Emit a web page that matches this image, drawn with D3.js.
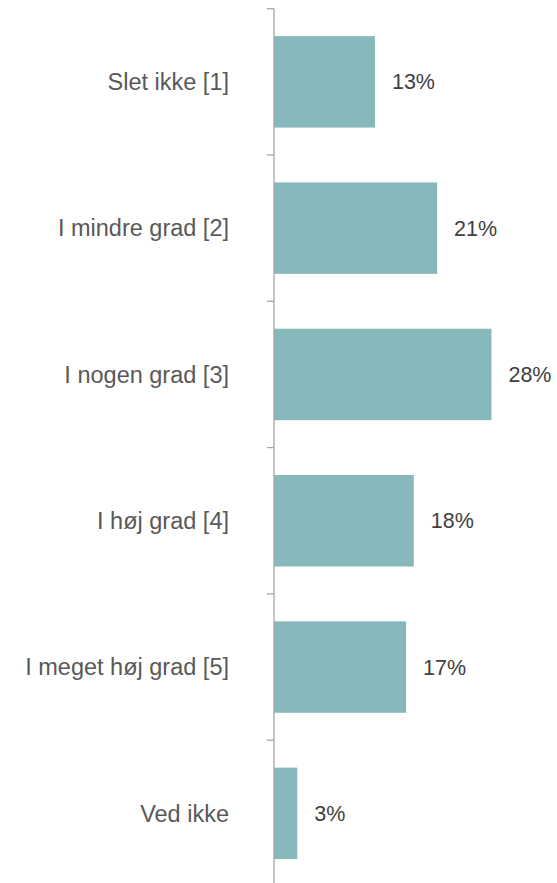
<!DOCTYPE html>
<html>
<head>
<meta charset="utf-8">
<script src="https://cdn.jsdelivr.net/npm/d3@7"></script>
<style>
  body { margin: 0; background: #fff; }
  svg { display: block; font-family: "Liberation Sans", Arial, sans-serif; }
</style>
</head>
<body>
<svg id="chart"></svg>
<script>
const categories = [
  "Slet ikke [1]",
  "I mindre grad [2]",
  "I nogen grad [3]",
  "I høj grad [4]",
  "I meget høj grad [5]",
  "Ved ikke"
];
const values = [13, 21, 28, 18, 17, 3];
const valueLabels = ["13%", "21%", "28%", "18%", "17%", "3%"];

const width = 557;
const height = 883;
const margin = { top: 8.7, left: 274, right: 52 };
const bandStep = 146.3;

const svg = d3.select("#chart").attr("width", width).attr("height", height);

// Scales
const yScale = d3
  .scaleBand()
  .domain(categories)
  .range([margin.top, margin.top + bandStep * categories.length])
  .paddingInner(0.375)
  .paddingOuter(0.1875);

const xScale = d3
  .scaleLinear()
  .domain([0, 30])
  .range([margin.left, margin.left + 233]);

// Bars
svg
  .append("g")
  .selectAll("rect")
  .data(values)
  .join("rect")
  .attr("x", xScale(0))
  .attr("y", (d, i) => yScale(categories[i]))
  .attr("width", (d) => xScale(d) - xScale(0))
  .attr("height", yScale.bandwidth())
  .attr("fill", "#86b8bc");

// Axis line and ticks at band boundaries
const axis = svg.append("g").attr("stroke", "#a6a6a6").attr("stroke-width", 1.3);
axis
  .append("line")
  .attr("x1", margin.left)
  .attr("x2", margin.left)
  .attr("y1", margin.top)
  .attr("y2", height);

const boundaries = d3.range(categories.length + 1).map((i) => margin.top + i * bandStep);
axis
  .selectAll("line.tick")
  .data(boundaries)
  .join("line")
  .attr("class", "tick")
  .attr("x1", margin.left - 7)
  .attr("x2", margin.left)
  .attr("y1", (d) => d)
  .attr("y2", (d) => d);

// Category labels
svg
  .append("g")
  .selectAll("text")
  .data(categories)
  .join("text")
  .attr("x", 229)
  .attr("y", (d) => yScale(d) + yScale.bandwidth() / 2)
  .attr("dy", "0.35em")
  .attr("text-anchor", "end")
  .style("font-size", "23.5px")
  .attr("fill", "#595959")
  .text((d) => d);

// Value labels
svg
  .append("g")
  .selectAll("text")
  .data(values)
  .join("text")
  .attr("x", (d) => xScale(d) + 17)
  .attr("y", (d, i) => yScale(categories[i]) + yScale.bandwidth() / 2)
  .attr("dy", "0.35em")
  .style("font-size", "21.5px")
  .attr("fill", "#404040")
  .text((d, i) => valueLabels[i]);
</script>
</body>
</html>
